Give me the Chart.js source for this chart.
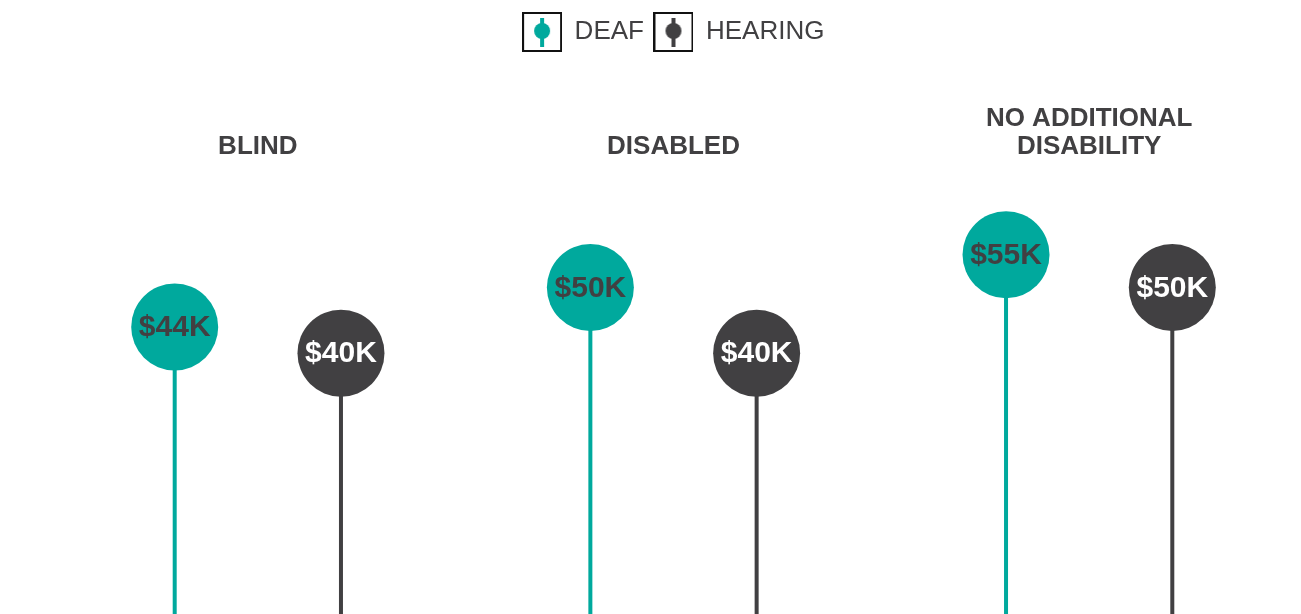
<!DOCTYPE html>
<html>
<head>
<meta charset="utf-8">
<script src="https://cdn.jsdelivr.net/npm/chart.js@4/dist/chart.umd.min.js"></script>
<style>
html,body{margin:0;padding:0;background:#fff;}
#wrap{width:1301px;height:614px;}
</style>
</head>
<body>
<div id="wrap"><canvas id="c" width="1301" height="614"></canvas></div>
<script>
const categories = ['BLIND', 'DISABLED', ['NO ADDITIONAL', 'DISABILITY']];
const seriesNames = ['DEAF', 'HEARING'];
const deafValues = [44, 50, 55];
const hearingValues = [40, 40, 50];

const TEAL = '#00A99D';
const DARK = '#414042';
const FONT = "'Liberation Sans', Arial, Helvetica, sans-serif";

function makeIcon(color) {
  const c = document.createElement('canvas');
  c.width = 40; c.height = 40;
  const g = c.getContext('2d');
  g.fillStyle = '#fff';
  g.fillRect(0, 0, 40, 40);
  g.strokeStyle = '#111';
  g.lineWidth = 2;
  g.strokeRect(1, 1, 38, 38);
  g.fillStyle = color;
  g.fillRect(18, 6, 4, 29);
  g.beginPath();
  g.arc(20, 19, 8, 0, Math.PI * 2);
  g.fill();
  return c;
}
const icons = [makeIcon(TEAL), makeIcon(DARK)];

const lollipopPlugin = {
  id: 'lollipop',
  afterDatasetsDraw(chart) {
    const ctx = chart.ctx;
    chart.data.datasets.forEach((ds, di) => {
      const meta = chart.getDatasetMeta(di);
      if (meta.hidden) return;
      meta.data.forEach((el, i) => {
        ctx.save();
        ctx.beginPath();
        ctx.arc(el.x, el.y, 43.5, 0, Math.PI * 2);
        ctx.fillStyle = ds.backgroundColor;
        ctx.fill();
        ctx.fillStyle = di === 0 ? DARK : '#ffffff';
        ctx.font = 'bold 30px ' + FONT;
        ctx.textAlign = 'center';
        ctx.textBaseline = 'middle';
        ctx.fillText('$' + ds.data[i] + 'K', el.x, el.y + 1);
        ctx.restore();
      });
    });
  }
};

const legendSpacer = {
  id: 'legendSpacer',
  beforeInit(chart) {
    const origFit = chart.legend.fit;
    chart.legend.fit = function () {
      origFit.bind(chart.legend)();
      this.height += 22;
    };
  }
};

new Chart(document.getElementById('c'), {
  type: 'bar',
  data: {
    labels: categories,
    datasets: [
      { label: seriesNames[0], data: deafValues, backgroundColor: TEAL, maxBarThickness: 4 },
      { label: seriesNames[1], data: hearingValues, backgroundColor: DARK, maxBarThickness: 4 }
    ]
  },
  options: {
    responsive: false,
    animation: false,
    datasets: { bar: { categoryPercentage: 0.8, barPercentage: 0.9 } },
    layout: { padding: { top: 9, left: 50, right: 4, bottom: 0 } },
    plugins: {
      tooltip: { enabled: false },
      legend: {
        position: 'top',
        labels: {
          usePointStyle: true,
          pointStyleWidth: 39,
          padding: 10,
          color: '#414042',
          font: { family: FONT, size: 26 },
          generateLabels(chart) {
            const items = Chart.defaults.plugins.legend.labels.generateLabels(chart);
            items.forEach((it, i) => { it.pointStyle = icons[i]; it.lineWidth = 0; });
            return items;
          }
        }
      }
    },
    scales: {
      x: {
        position: 'top',
        grid: { display: false, drawTicks: false },
        border: { display: false },
        ticks: {
          padding: 28,
          color: '#414042',
          font: { family: FONT, size: 26, weight: 'bold', lineHeight: '28px' },
          maxRotation: 0
        }
      },
      y: {
        display: false,
        min: 0.3,
        max: 65
      }
    }
  },
  plugins: [legendSpacer, lollipopPlugin]
});
</script>
</body>
</html>
